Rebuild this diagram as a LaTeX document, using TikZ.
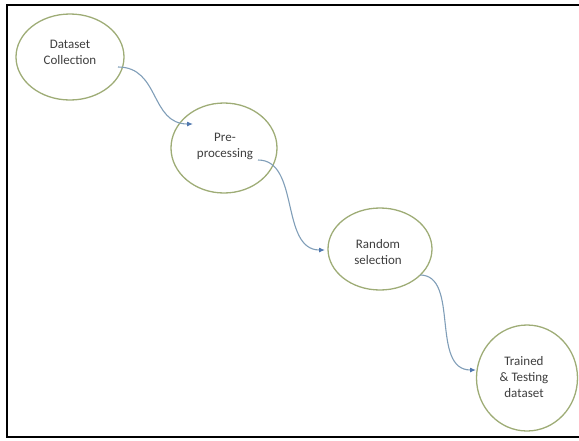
\documentclass[tikz,border=0pt]{standalone}
\usepackage{fontspec}
\setmainfont{Carlito}
\usetikzlibrary{arrows.meta,shapes.geometric}
\definecolor{ringc}{RGB}{158,172,118}
\definecolor{linkc}{RGB}{128,158,184}
\definecolor{tipc}{RGB}{80,120,175}
\definecolor{txtc}{RGB}{62,62,62}
\tikzset{
  stage/.style={ellipse, draw=ringc, line width=1.3pt, inner sep=0pt},
  stagetext/.style={text=txtc, font=\fontsize{13}{16}\selectfont, align=center},
  link/.style={draw=linkc, line width=1.1pt, -{Latex[length=6pt,width=5pt,color=tipc]}},
  frameline/.style={line width=2.5pt, black}
}
\begin{document}
\begin{tikzpicture}[x=1pt,y=-1pt]
\useasboundingbox (0,0) rectangle (579,440);
\draw[frameline] (579,5) -- (7,5) -- (7,437) -- (579,437);

\node[stage, minimum width=108pt, minimum height=86pt] (n1) at (70,57) {};
\node[stage, minimum width=106pt, minimum height=90pt] (n2) at (224,148) {};
\node[stage, minimum width=104pt, minimum height=82pt] (n3) at (380,249) {};
\node[stage, minimum width=101pt, minimum height=106pt] (n4) at (527,378) {};

\node[stagetext] (t1) at (70,52) {Dataset\\Collection};
\node[stagetext] (t2) at (225,146) {Pre-\\processing};
\node[stagetext] (t3) at (378,252) {Random\\selection};
\node[stagetext] (t4) at (524,377) {Trained\\\& Testing\\dataset};

\coordinate (s1) at (118,67);
\coordinate (e1) at (193,124);
\coordinate (s2) at (258,160);
\coordinate (e2) at (325,250);
\coordinate (s3) at (420,275);
\coordinate (e3) at (476,370);

\draw[link] (s1) .. controls (160,67) and (150,124) .. (e1);
\draw[link] (s2) .. controls (300,160) and (280,250) .. (e2);
\draw[link] (s3) .. controls (460,275) and (430,370) .. (e3);
\end{tikzpicture}
\end{document}
